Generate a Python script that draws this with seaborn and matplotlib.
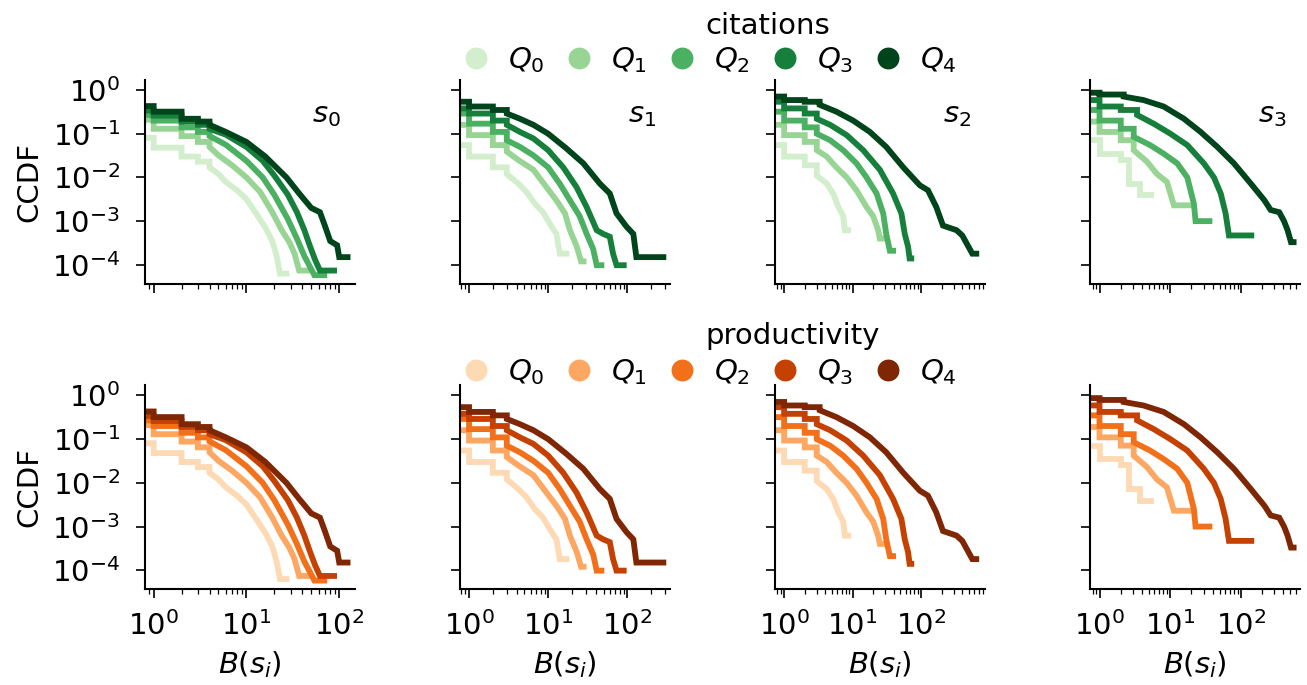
import numpy as np
import matplotlib
matplotlib.use('Agg')
import matplotlib.pyplot as plt
from matplotlib.lines import Line2D
from matplotlib.ticker import NullLocator
import seaborn as sns

# CCDF curves, one list per quantile Q0..Q4
# x = B(s_i), y = CCDF level reached at that x

# ---- s0 ----
s0_B = [
    [0.82, 1, 2, 3, 4, 5, 6, 8, 10, 13, 16, 19, 21, 23, 27],
    [0.82, 1, 2, 3, 4, 5, 7, 10, 14, 19, 24, 29, 33, 37, 45],
    [0.82, 1, 2, 3, 4, 6, 10, 15, 20, 28, 35, 42, 50, 54, 69],
    [0.82, 1, 2, 3, 4, 6, 10, 15, 20, 28, 35, 42, 48, 55, 62, 88],
    [0.82, 1, 2, 3, 4, 6, 10, 16, 27, 37, 50, 62, 70, 80, 95, 100, 123],
]
s0_C = [
    [0.081, 0.048, 0.030, 0.023, 0.017, 0.012, 0.0079, 0.0050, 0.0032, 0.0014, 7.1e-4, 3.5e-4, 1.7e-4, 6.3e-5, 6.3e-5],
    [0.21, 0.13, 0.088, 0.065, 0.050, 0.032, 0.019, 0.010, 0.0047, 0.0016, 6.2e-4, 3.3e-4, 1.8e-4, 7.4e-5, 7.4e-5],
    [0.27, 0.20, 0.14, 0.11, 0.089, 0.056, 0.024, 0.010, 0.0040, 0.0011, 4.0e-4, 1.6e-4, 7.9e-5, 5.8e-5, 5.8e-5],
    [0.34, 0.26, 0.19, 0.16, 0.13, 0.095, 0.050, 0.024, 0.011, 0.0040, 0.0016, 6.3e-4, 2.8e-4, 1.3e-4, 7.4e-5, 7.4e-5],
    [0.43, 0.32, 0.22, 0.19, 0.16, 0.11, 0.065, 0.030, 0.010, 0.0043, 0.0020, 0.0016, 7.9e-4, 3.5e-4, 2.8e-4, 1.5e-4, 1.5e-4],
]

# ---- s1 ----
s1_B = [
    [0.8, 1, 2, 3, 4.2, 5.3, 6.8, 8.6, 10.5, 12.7, 14, 17],
    [0.8, 1, 2, 3, 4.2, 6.5, 9.5, 12.7, 16.3, 18.8, 23, 26, 28],
    [0.8, 1, 2, 3, 4.4, 6.5, 10, 14, 18.8, 25, 30.6, 37, 41, 47],
    [0.8, 1, 2, 3, 4.4, 6.5, 10, 15.5, 22.8, 30.6, 41, 49.5, 60, 66, 73, 90],
    [0.8, 1, 2, 3, 4.4, 6.5, 10, 17, 27.8, 45, 60, 73, 98, 119, 130, 285],
]
s1_C = [
    [0.055, 0.030, 0.017, 0.012, 0.0072, 0.0047, 0.0025, 0.0016, 8.7e-4, 5.1e-4, 1.8e-4, 1.8e-4],
    [0.16, 0.093, 0.055, 0.039, 0.025, 0.015, 0.0060, 0.0030, 0.0015, 6.2e-4, 2.6e-4, 1.2e-4, 1.2e-4],
    [0.29, 0.17, 0.11, 0.071, 0.050, 0.032, 0.017, 0.0072, 0.0030, 0.0013, 5.1e-4, 2.3e-4, 9.8e-5, 9.8e-5],
    [0.38, 0.29, 0.20, 0.16, 0.11, 0.078, 0.042, 0.017, 0.0060, 0.0021, 6.2e-4, 5.1e-4, 4.4e-4, 1.8e-4, 9.8e-5, 9.8e-5],
    [0.54, 0.42, 0.35, 0.29, 0.22, 0.16, 0.10, 0.046, 0.021, 0.0072, 0.0043, 0.0015, 7.4e-4, 5.1e-4, 1.5e-4, 1.5e-4],
]

# ---- s2 ----
s2_B = [
    [0.8, 1, 2, 3, 4.2, 5.2, 6.2, 7.3, 7.7, 8.6],
    [0.8, 1, 2, 3, 4.2, 5.8, 8.2, 11.4, 16, 20, 23.6, 25, 27],
    [0.8, 1, 2, 3, 4.7, 7.3, 11.4, 16, 22.4, 28, 31, 35, 39],
    [0.8, 1, 2, 3, 4.7, 8.2, 14.3, 25, 39, 51.6, 57.8, 64.6, 68, 72],
    [0.8, 1, 2, 3.3, 5.8, 10.2, 17.9, 31, 55, 96, 126, 167, 209, 330, 400, 560, 640],
]
s2_C = [
    [0.055, 0.030, 0.019, 0.011, 0.0072, 0.0043, 0.0021, 0.0013, 6.2e-4, 6.2e-4],
    [0.16, 0.093, 0.065, 0.042, 0.030, 0.017, 0.010, 0.0051, 0.0021, 0.0013, 6.2e-4, 4.0e-4, 4.0e-4],
    [0.32, 0.20, 0.14, 0.10, 0.071, 0.042, 0.021, 0.010, 0.0043, 0.0015, 5.1e-4, 2.1e-4, 2.1e-4],
    [0.54, 0.38, 0.29, 0.22, 0.16, 0.093, 0.042, 0.015, 0.0043, 0.0015, 5.1e-4, 2.6e-4, 1.4e-4, 1.4e-4],
    [0.71, 0.59, 0.54, 0.46, 0.32, 0.20, 0.11, 0.050, 0.017, 0.0066, 0.0051, 0.0021, 7.9e-4, 6.2e-4, 4.7e-4, 1.8e-4, 1.8e-4],
]

# ---- s3 ----
s3_B = [
    [0.78, 1, 2, 2.6, 3.7, 5.4],
    [0.78, 1, 2, 3.05, 4.7, 6.5, 9, 11.3, 20.5],
    [0.78, 1, 2, 3.05, 5.2, 8.1, 12.6, 17.5, 21.7, 22.9, 36],
    [0.78, 1, 2, 3.4, 5.85, 10.1, 17.5, 30, 41.7, 52, 61, 68, 141],
    [0.78, 1, 2.2, 4.2, 8.1, 15.7, 27, 46.6, 80, 139, 216, 265, 350, 410, 460, 514, 560],
]
s3_C = [
    [0.071, 0.035, 0.025, 0.0072, 0.0039, 0.0039],
    [0.19, 0.11, 0.071, 0.042, 0.023, 0.012, 0.0079, 0.0023, 0.0023],
    [0.35, 0.20, 0.13, 0.085, 0.055, 0.035, 0.021, 0.010, 0.0025, 0.0010, 0.0010],
    [0.59, 0.42, 0.35, 0.27, 0.17, 0.10, 0.055, 0.021, 0.010, 0.0043, 0.0015, 4.7e-4, 4.7e-4],
    [0.87, 0.79, 0.71, 0.59, 0.42, 0.22, 0.11, 0.050, 0.021, 0.0072, 0.0030, 0.0018, 0.0016, 0.0010, 6.2e-4, 3.3e-4, 3.3e-4],
]

# productivity curves look the same as the citation ones in the figure
panel_B = [s0_B, s1_B, s2_B, s3_B]
panel_C = [s0_C, s1_C, s2_C, s3_C]

quantile_labels = [r'$Q_0$', r'$Q_1$', r'$Q_2$', r'$Q_3$', r'$Q_4$']
stage_labels = [r'$s_0$', r'$s_1$', r'$s_2$', r'$s_3$']
row_titles = ['citations', 'productivity']
x_limits = [(0.806, 148), (0.77, 347), (0.74, 865), (0.74, 697)]
y_ticks = [1e0, 1e-1, 1e-2, 1e-3, 1e-4]


def trace(B, C):
    # small integer values keep their visible stairs, larger ones are
    # dense enough that the stairs merge into a line
    xs, ys = [B[0]], [C[0]]
    for i in range(1, len(B)):
        if B[i] <= 4:
            xs.append(B[i])
            ys.append(C[i - 1])
        xs.append(B[i])
        ys.append(C[i])
    return xs, ys


sns.set_style('ticks')
plt.rcParams['font.family'] = ['DejaVu Sans']
plt.rcParams['font.size'] = 14
plt.rcParams['text.color'] = 'black'
plt.rcParams['axes.labelcolor'] = 'black'
plt.rcParams['axes.edgecolor'] = 'black'
plt.rcParams['xtick.color'] = 'black'
plt.rcParams['ytick.color'] = 'black'
plt.rcParams['xtick.labelsize'] = 14
plt.rcParams['ytick.labelsize'] = 14
plt.rcParams['xtick.major.size'] = 4.5
plt.rcParams['ytick.major.size'] = 4.5
plt.rcParams['xtick.minor.size'] = 2.5
plt.rcParams['xtick.major.pad'] = 6
plt.rcParams['ytick.major.pad'] = 7.5
plt.rcParams['axes.linewidth'] = 1.0
plt.rcParams['lines.solid_capstyle'] = 'projecting'
plt.rcParams['lines.solid_joinstyle'] = 'miter'

row_colors = [plt.cm.Greens(np.linspace(0.2, 1, 5)),
              plt.cm.Oranges(np.linspace(0.2, 1, 5))]

fig, axes = plt.subplots(2, 4, figsize=(1307 / 150, 685 / 150), dpi=150,
                         sharey=True, sharex='col')
fig.subplots_adjust(left=0.1109, right=0.9949, top=0.8832, bottom=0.1401,
                    wspace=0.5, hspace=0.5)

for row in range(2):
    for col in range(4):
        ax = axes[row, col]
        ax.set_xscale('log')
        ax.set_yscale('log')
        for q in range(5):
            xs, ys = trace(panel_B[col][q], panel_C[col][q])
            sns.lineplot(x=xs, y=ys, ax=ax, color=row_colors[row][q], lw=2.8,
                         estimator=None, sort=False,
                         solid_capstyle='projecting', solid_joinstyle='miter')
        ax.set_xlim(*x_limits[col])
        ax.set_ylim(10 ** -4.43, 10 ** 0.23)
        ax.set_yticks(y_ticks)
        ax.yaxis.set_minor_locator(NullLocator())
        sns.despine(ax=ax)
        if row == 0:
            ax.text(0.865, 0.83, stage_labels[col], transform=ax.transAxes,
                    ha='center', va='center', fontsize=14)
        if col == 0:
            ax.set_ylabel('CCDF')
        if row == 1:
            ax.set_xlabel(r'$B(s_i)$')

# legends above each row
legend_y = [0.912, 0.457]
title_y = [0.9504, 0.4978]
for row in range(2):
    handles = [Line2D([], [], marker='o', ls='', ms=9.5, color=c)
               for c in row_colors[row]]
    fig.legend(handles, quantile_labels, loc='center',
               bbox_to_anchor=(0.5425, legend_y[row]), ncol=5, frameon=False,
               handlelength=1.0, handletextpad=0.6, columnspacing=0.7,
               fontsize=14, borderpad=0.1)
    fig.text(0.5394, title_y[row], row_titles[row], ha='left', va='baseline',
             fontsize=14)

fig.savefig('out.png', dpi=150)
